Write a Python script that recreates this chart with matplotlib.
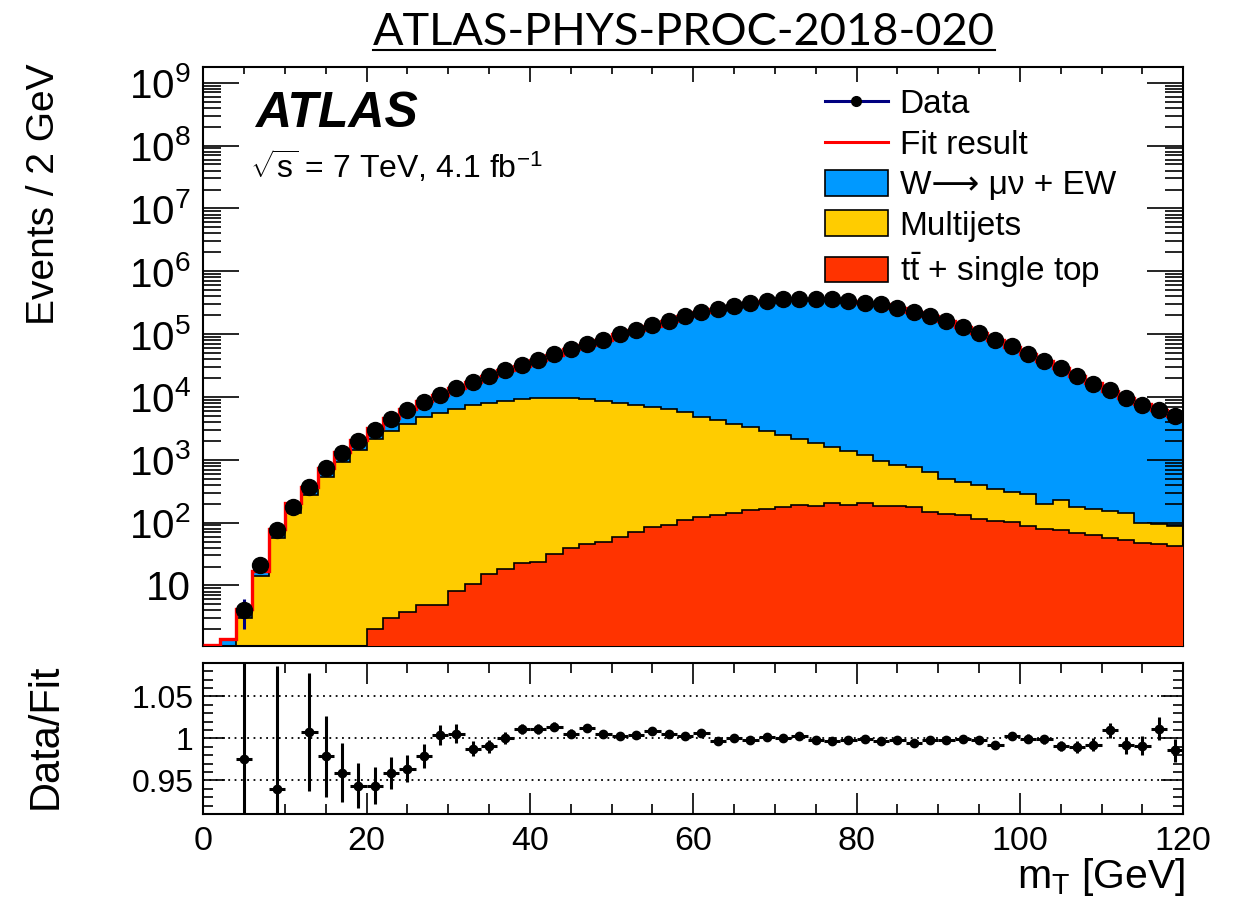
"""ATLAS W -> mu nu transverse mass fit with data/fit ratio panel."""

import matplotlib

matplotlib.use("Agg")

import matplotlib.pyplot as plt
import numpy as np
from matplotlib.lines import Line2D
from matplotlib.patches import Patch
from matplotlib.ticker import FuncFormatter, LogLocator, MultipleLocator, NullFormatter

plt.rcParams["font.family"] = ["Liberation Sans", "DejaVu Sans"]
plt.rcParams["mathtext.fontset"] = "custom"
plt.rcParams["mathtext.rm"] = "Liberation Sans"
plt.rcParams["mathtext.it"] = "Liberation Sans:italic"
plt.rcParams["mathtext.bf"] = "Liberation Sans:bold"

# m_T bins, 2 GeV wide from 0 to 120 GeV
bin_edges = np.arange(0, 121, 2)

# stacked fit components, events per bin
w_ew = [1.12, 1.4, 1.2, 3.1, 22.5, 61, 99, 219, 410, 670,
        1080, 1830, 2590, 3680, 5290, 7480, 10150, 13500, 17900, 22200,
        29300, 37400, 47500, 58800, 72800, 91700, 110000, 130100, 154500, 185700,
        218700, 246700, 278300, 309200, 331600, 354500, 361900, 364100, 360400, 338100,
        314300, 297100, 261700, 226200, 193700, 158800, 128800, 104800, 80500, 63000,
        48800, 36800, 28600, 21300, 16200, 12450, 9440, 7500, 6100, 4880]
multijets = [0, 0, 3.0, 13.9, 57.5, 144, 271, 531, 920, 1410,
             2108, 2867, 3756, 4795, 5555, 6512, 7340, 7985, 8582, 9247,
             9477, 9568, 9461, 9114, 8551, 8051, 7459, 6825, 6427, 5660,
             4730, 4216, 3516, 3164, 2704, 2293, 1952, 1689, 1385, 1192,
             985, 761, 634, 590, 484, 361, 318, 280, 232, 200,
             201, 117, 151, 109, 105, 95, 89, 52, 51, 48]
top = [0, 0, 0, 0, 0, 0, 0, 0, 0, 0,
       2.04, 3.06, 3.76, 4.8, 4.8, 8.1, 10.4, 15.4, 18.4, 22.6,
       23.5, 32, 39.3, 46, 49, 58.8, 70.6, 84.8, 92.5, 110,
       121, 134, 144, 156, 166, 177, 188, 181, 205, 188,
       205, 183, 181, 177, 147, 139, 130, 115, 106, 103,
       87, 80, 75, 68, 62.5, 56.6, 53.4, 47.2, 45, 41.8]

data = [np.nan, np.nan, 4.0, 20.8, 75, 177, 371, 738, 1280, 1960,
        3010, 4510, 6120, 8300, 10900, 14100, 17300, 21300, 26500, 31900,
        39300, 47700, 57300, 68900, 81800, 100000, 118000, 138000, 162000, 192000,
        225000, 250000, 282000, 312000, 335000, 357000, 365000, 365000, 361000, 339000,
        315000, 297000, 262000, 226000, 194000, 159000, 129000, 105000, 80200, 63500,
        49100, 37000, 28600, 21300, 16300, 12700, 9500, 7530, 6270, 4900]
# data uncertainties only stick out of the markers in the lowest bins
data_err_low = [np.nan, np.nan, 2.0, 4.6, 8.7, 13.3]

ratio = [np.nan, np.nan, 0.975, np.nan, 0.9397, np.nan, 1.0075, 0.9786, 0.959, 0.9437,
         0.9437, 0.9587, 0.9639, 0.979, 1.004, 1.0056, 0.9877, 0.9905, 1.0, 1.0115,
         1.0115, 1.0139, 1.0056, 1.0123, 1.0048, 1.0024, 1.0036, 1.0083, 1.0048, 1.0024,
         1.0063, 0.9968, 1.0, 0.9976, 1.0016, 1.0, 1.0024, 0.998, 0.9968, 0.9984,
         0.9988, 0.9968, 0.998, 0.9948, 0.9984, 0.9984, 0.9988, 0.998, 0.9921, 1.0032,
         0.9996, 0.9988, 0.9913, 0.9897, 0.9925, 1.0095, 0.9917, 0.9913, 1.0115, 0.9857]
ratio_err = [np.nan, np.nan, 0.2, np.nan, 0.146, np.nan, 0.07, 0.048, 0.035, 0.027,
             0.022, 0.019, 0.016, 0.014, 0.012, 0.011, 0.009, 0.008, 0.007, 0.006,
             0.006, 0.005, 0.005, 0.004, 0.004, 0.004, 0.003, 0.003, 0.003, 0.003,
             0.003, 0.003, 0.003, 0.003, 0.003, 0.003, 0.003, 0.003, 0.003, 0.003,
             0.003, 0.003, 0.003, 0.003, 0.003, 0.003, 0.004, 0.004, 0.004, 0.004,
             0.005, 0.005, 0.006, 0.007, 0.008, 0.009, 0.010, 0.011, 0.014, 0.014]

legend_labels = ["Data", "Fit result", "W\u27f6 \u03bc\u03bd + EW", "Multijets",
                 r"$\mathrm{t\bar{t}}$ + single top"]

COLOR_W = "#0099ff"
COLOR_MJ = "#ffcc00"
COLOR_TOP = "#ff3300"

W, H = 1233, 910
fig = plt.figure(figsize=(W / 100, H / 100), dpi=100)


def fx(px):
    return px / W


def fy(py):
    return 1 - py / H


ax = fig.add_axes([fx(203.3), fy(645.7), fx(1183.3) - fx(203.3), fy(66.7) - fy(645.7)])
rax = fig.add_axes([fx(203.3), fy(814), fx(1183.3) - fx(203.3), fy(662.7) - fy(814)])

centers = 0.5 * (bin_edges[:-1] + bin_edges[1:])
lvl_top = np.asarray(top, dtype=float)
lvl_mj = lvl_top + np.asarray(multijets, dtype=float)
lvl_all = lvl_mj + np.asarray(w_ew, dtype=float)
floor = 1e-2

# filled stack
ax.stairs(np.maximum(lvl_all, floor), bin_edges, baseline=floor, fill=True, color=COLOR_W, lw=0, zorder=1)
ax.stairs(np.maximum(lvl_mj, floor), bin_edges, baseline=floor, fill=True, color=COLOR_MJ, lw=0, zorder=2)
ax.stairs(np.maximum(lvl_top, floor), bin_edges, baseline=floor, fill=True, color=COLOR_TOP, lw=0, zorder=3)
ax.stairs(np.maximum(lvl_mj, floor), bin_edges, baseline=None, color="black", lw=1.2, zorder=4)
ax.stairs(np.maximum(lvl_top, floor), bin_edges, baseline=None, color="black", lw=1.2, zorder=4)
ax.stairs(lvl_all, bin_edges, baseline=None, color="red", lw=2.4, zorder=5)

ax.errorbar(centers[:len(data_err_low)], data[:len(data_err_low)], yerr=data_err_low,
            fmt="none", ecolor="#000080", elinewidth=2.2, zorder=6)
ax.plot(centers, data, "o", color="black", ms=11.5, zorder=7)

ax.set_xlim(0, 120)
ax.set_yscale("log")
ax.set_ylim(1.1, 1.8e9)
ax.xaxis.set_major_locator(MultipleLocator(20))
ax.xaxis.set_minor_locator(MultipleLocator(5))
ax.xaxis.set_major_formatter(NullFormatter())
ax.yaxis.set_major_locator(LogLocator(base=10, numticks=20))
ax.yaxis.set_minor_locator(LogLocator(base=10, subs=np.arange(2, 10), numticks=20))
ax.yaxis.set_minor_formatter(NullFormatter())
ax.yaxis.set_major_formatter(FuncFormatter(
    lambda v, _: "10" if abs(v - 10) < 1e-6 else r"$10^{%d}$" % round(np.log10(v))))
ax.tick_params(which="both", direction="in", top=True, right=True, width=1.2)
ax.tick_params(axis="x", which="major", length=10.5)
ax.tick_params(axis="x", which="minor", length=5)
ax.tick_params(axis="y", which="major", length=26, labelsize=29, pad=9)
ax.tick_params(axis="y", which="minor", length=13)
for sp in ax.spines.values():
    sp.set_linewidth(1.5)

handles = [
    Line2D([], [], color="#000080", lw=2.2, marker="o", ms=7, mfc="black", mec="black"),
    Line2D([], [], color="red", lw=2.2),
    Patch(facecolor=COLOR_W, edgecolor="black", lw=1.2),
    Patch(facecolor=COLOR_MJ, edgecolor="black", lw=1.2),
    Patch(facecolor=COLOR_TOP, edgecolor="black", lw=1.2),
]
ax.legend(handles, legend_labels, loc="upper left", bbox_to_anchor=(fx(825), fy(89)),
          bbox_transform=fig.transFigure, frameon=False, fontsize=24, borderpad=0,
          borderaxespad=0, handlelength=1.88, handleheight=0.81, handletextpad=0.36,
          labelspacing=0.27)

# ratio panel
for yv in (0.95, 1.0, 1.05):
    rax.axhline(yv, color="black", lw=1.3, ls=(0, (1, 2.5)), zorder=1)
rax.errorbar(centers, ratio, xerr=1.0, yerr=ratio_err, fmt="o", color="black",
             ms=6, elinewidth=2.2, capsize=0, zorder=3)
rax.set_xlim(0, 120)
rax.set_ylim(0.91, 1.09)
rax.xaxis.set_major_locator(MultipleLocator(20))
rax.xaxis.set_minor_locator(MultipleLocator(5))
rax.yaxis.set_major_locator(MultipleLocator(0.05))
rax.yaxis.set_minor_locator(MultipleLocator(0.01))
rax.yaxis.set_major_formatter(FuncFormatter(lambda v, _: ("%.2f" % v).rstrip("0").rstrip(".")))
rax.tick_params(which="both", direction="in", top=True, right=True, width=1.2)
rax.tick_params(axis="x", which="major", length=15, labelsize=24.5, pad=9)
rax.tick_params(axis="x", which="minor", length=7)
rax.tick_params(axis="y", which="major", length=16, labelsize=23, pad=7)
rax.tick_params(axis="y", which="minor", length=7.5)
for sp in rax.spines.values():
    sp.set_linewidth(1.5)

fig.text(fx(44), fy(194), "Events / 2 GeV", rotation=90, ha="center", va="center", fontsize=28)
fig.text(fx(46), fy(736), "Data/Fit", rotation=90, ha="center", va="center", fontsize=30)
fig.text(fx(1185), fy(877), r"m$_{\mathrm{T}}$ [GeV]", ha="right", va="center", fontsize=29.5)

fig.text(fx(255), fy(126.7), "ATLAS", fontsize=36, weight="bold", style="italic", va="baseline")
fig.text(fx(250), fy(178), r"$\sqrt{\mathrm{s}}$ = 7 TeV, 4.1 fb$^{-1}$", fontsize=23, va="baseline")

title = fig.text(fx(684), fy(45), "ATLAS-PHYS-PROC-2018-020", ha="center", va="baseline",
                 fontsize=32.5, family=["Lato", "DejaVu Sans"], weight="normal")
fig.canvas.draw()
bb = title.get_window_extent()
fig.add_artist(Line2D([bb.x0 / W, bb.x1 / W], [fy(49.5), fy(49.5)], color="black", lw=1.5,
                      transform=fig.transFigure))

fig.savefig("out.png", dpi=100)
